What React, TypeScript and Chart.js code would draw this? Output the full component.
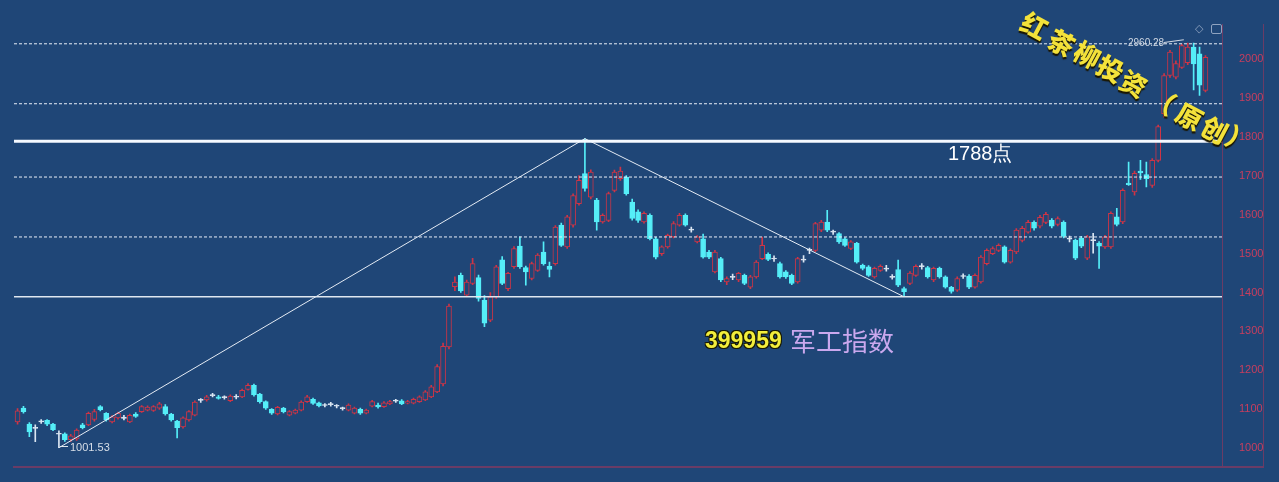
import React, { useEffect, useRef } from 'react';
import { Chart, registerables } from 'chart.js';
Chart.register(...registerables);

// ---- data (index = candle number, left to right) ----
const opens = [
  1068,1103,1062,1053,1068,1072,1062,1038,1037,1022,
  1024,1060,1060,1074,1107,1090,1068,1078,1080,1068,
  1088,1094,1098,1097,1103,1107,1088,1070,1055,1073,
  1085,1125,1124,1138,1132,1131,1122,1133,1132,1151,
  1162,1139,1120,1100,1088,1103,1085,1090,1098,1120,
  1126,1117,1112,1113,1109,1103,1098,1090,1100,1090,
  1108,1111,1107,1114,1123,1122,1116,1116,1120,1124,
  1132,1145,1165,1260,1415,1444,1393,1423,1438,1380,
  1329,1389,1484,1410,1466,1519,1464,1436,1457,1504,
  1467,1474,1573,1517,1573,1628,1705,1645,1637,1581,
  1585,1662,1692,1696,1632,1607,1581,1598,1538,1500,
  1517,1543,1573,1598,1563,1530,1538,1504,1453,1487,
  1427,1441,1432,1444,1414,1440,1487,1498,1488,1474,
  1453,1444,1427,1486,1509,1508,1560,1581,1556,1551,
  1538,1513,1526,1470,1466,1440,1457,1463,1439,1459,
  1410,1423,1444,1469,1464,1432,1462,1440,1413,1406,
  1441,1442,1414,1427,1474,1500,1508,1517,1478,1504,
  1534,1555,1580,1570,1580,1585,1575,1580,1540,1534,
  1540,1488,1535,1527,1517,1517,1594,1581,1681,1658,
  1712,1703,1675,1739,1859,1957,1953,1978,1990,2030,
  2013,1919,
];
const closes = [
  1096,1094,1042,1051,1069,1062,1048,1036,1022,1032,
  1047,1053,1090,1094,1099,1073,1081,1090,1077,1085,
  1082,1107,1106,1107,1114,1088,1073,1053,1078,1094,
  1119,1123,1132,1135,1128,1130,1134,1131,1149,1162,
  1137,1120,1103,1090,1105,1094,1094,1098,1119,1132,
  1115,1109,1110,1112,1108,1102,1111,1103,1090,1098,
  1120,1106,1117,1120,1121,1114,1120,1126,1132,1145,
  1158,1210,1262,1365,1427,1404,1427,1474,1385,1321,
  1389,1466,1423,1449,1513,1466,1453,1474,1496,1474,
  1459,1568,1521,1594,1649,1688,1667,1709,1581,1598,
  1654,1709,1712,1654,1590,1585,1603,1538,1491,1517,
  1547,1577,1598,1573,1560,1543,1491,1491,1504,1432,
  1436,1439,1449,1423,1440,1478,1521,1485,1486,1440,
  1440,1423,1487,1483,1508,1577,1581,1560,1555,1530,
  1521,1530,1478,1462,1444,1462,1467,1460,1441,1419,
  1402,1450,1467,1466,1440,1462,1440,1414,1403,1436,
  1443,1414,1444,1491,1508,1513,1521,1478,1508,1560,
  1565,1580,1565,1593,1601,1570,1590,1544,1537,1488,
  1519,1543,1533,1519,1543,1603,1575,1662,1677,1706,
  1707,1692,1739,1826,1957,2017,1988,2034,2030,1987,
  1932,2004,
];
const highs = [
  1102,1108,1066,1060,1074,1074,1064,1045,1040,1036,
  1050,1064,1093,1100,1110,1092,1084,1093,1085,1088,
  1092,1110,1109,1110,1118,1112,1090,1072,1081,1097,
  1122,1128,1136,1141,1136,1135,1137,1138,1152,1166,
  1165,1141,1122,1102,1108,1105,1097,1101,1122,1136,
  1129,1119,1115,1118,1112,1106,1114,1106,1103,1101,
  1123,1116,1120,1123,1126,1125,1123,1129,1135,1148,
  1162,1215,1270,1370,1440,1450,1432,1488,1445,1392,
  1400,1470,1492,1452,1518,1543,1468,1478,1500,1530,
  1478,1572,1578,1598,1653,1700,1795,1715,1642,1602,
  1658,1714,1722,1700,1640,1612,1607,1602,1542,1520,
  1550,1582,1603,1602,1568,1546,1550,1508,1508,1490,
  1440,1447,1452,1447,1444,1482,1542,1502,1494,1478,
  1456,1447,1490,1495,1514,1580,1585,1611,1560,1554,
  1541,1533,1529,1473,1469,1465,1471,1470,1446,1483,
  1414,1454,1471,1474,1467,1465,1465,1443,1416,1440,
  1448,1446,1448,1495,1512,1517,1525,1520,1512,1564,
  1570,1585,1584,1598,1606,1590,1594,1584,1545,1537,
  1544,1547,1552,1531,1547,1607,1616,1666,1735,1712,
  1739,1735,1744,1830,1962,2022,1995,2038,2040,2040,
  2030,2008,
];
const lows = [
  1062,1090,1030,1017,1064,1058,1045,1001.53,1018,1018,
  1020,1050,1058,1070,1096,1070,1065,1075,1073,1066,
  1079,1092,1096,1095,1100,1085,1070,1027,1052,1070,
  1083,1118,1121,1132,1126,1126,1120,1127,1130,1149,
  1134,1116,1100,1087,1086,1091,1083,1088,1096,1118,
  1113,1106,1106,1108,1104,1098,1096,1088,1087,1088,
  1106,1103,1105,1112,1118,1112,1114,1114,1118,1122,
  1130,1143,1160,1255,1405,1400,1390,1420,1378,1312,
  1325,1385,1420,1405,1462,1462,1419,1432,1454,1470,
  1440,1470,1518,1513,1568,1624,1660,1640,1560,1578,
  1582,1658,1688,1650,1586,1580,1578,1535,1486,1495,
  1514,1540,1570,1570,1555,1527,1488,1487,1450,1428,
  1420,1433,1428,1420,1410,1437,1484,1482,1480,1437,
  1436,1420,1424,1478,1500,1505,1556,1556,1549,1526,
  1518,1510,1475,1458,1441,1437,1454,1455,1434,1415,
  1389,1420,1441,1460,1437,1428,1437,1411,1398,1403,
  1436,1410,1411,1424,1471,1497,1505,1475,1475,1500,
  1530,1552,1560,1566,1577,1566,1571,1540,1530,1484,
  1515,1484,1501,1462,1513,1513,1571,1577,1675,1650,
  1690,1671,1670,1735,1850,1952,1948,1975,1985,1920,
  1906,1915,
];

const yTicks = [1000, 1100, 1200, 1300, 1400, 1500, 1600, 1700, 1800, 1900, 2000];
const dashedLevels = [2038.5, 1884.6, 1696.4, 1542.6];
const keyLevel = 1788;
const supportLevel = 1389;
const trendIdx = [7, 96, 150];
const trendVals = [1001.53, 1795, 1389];
const lowLabel = '1001.53';
const highLabel = '2960.28';
const keyLabel = '1788点';
const codeLabel = '399959';
const nameLabel = '军工指数';
const brandChars = ['红', '茶', '柳', '投', '资', '（', '原', '创', '）'];

// ---- styling ----
const BG = '#1f4677';
const RED = '#cf3445';
const CYAN = '#55eef8';
const DOJI = '#dbe6f2';
const X_MIN = -0.6;
const X_MAX = 203.8;
const Y_MIN = 954.6;
const Y_MAX = 2149.5;

const brandPos = [
  [1035, 25], [1062, 42], [1088, 54], [1111, 68], [1134, 83],
  [1163, 100], [1190, 116], [1215, 129], [1240, 139],
];

export default function App() {
  const ref = useRef<HTMLCanvasElement>(null);

  useEffect(() => {
    const canvas = ref.current;
    if (!canvas) return;
    const kind = (i: number) =>
      Math.abs(closes[i] - opens[i]) <= 3 ? 'd' : closes[i] >= opens[i] ? 'u' : 'n';
    const bodyFill = opens.map((_, i) => (kind(i) === 'd' ? DOJI : kind(i) === 'u' ? BG : CYAN));
    const lineCol = opens.map((_, i) => (kind(i) === 'd' ? DOJI : kind(i) === 'u' ? RED : CYAN));

    const hLine = (v: number, color: string, width: number, dash: number[]) => ({
      type: 'line' as const,
      data: [{ x: X_MIN, y: v }, { x: X_MAX, y: v }],
      borderColor: color,
      borderWidth: width,
      borderDash: dash,
      pointRadius: 0,
      order: -1,
    });

    const chart = new Chart(canvas, {
      type: 'bar',
      data: {
        datasets: [
          {
            type: 'bar',
            data: opens.map((o, i) => ({ x: i, y: [o, closes[i]] })) as any,
            backgroundColor: bodyFill,
            borderColor: lineCol,
            borderWidth: 1,
            borderSkipped: false,
            barThickness: 5,
            minBarLength: 1,
            grouped: false,
            order: 0,
          } as any,
          {
            type: 'bar',
            data: lows.map((l, i) => ({ x: i, y: [l, highs[i]] })) as any,
            backgroundColor: lineCol,
            borderWidth: 0,
            barThickness: 1,
            grouped: false,
            order: 1,
          } as any,
          ...dashedLevels.map((v) => hLine(v, '#e9eff8', 1, [3, 2])),
          hLine(keyLevel, '#f5f9ff', 3, []),
          hLine(supportLevel, '#dfe7f0', 1.5, []),
          {
            type: 'line',
            data: trendIdx.map((x, k) => ({ x, y: trendVals[k] })),
            borderColor: '#e4ebf4',
            borderWidth: 1,
            pointRadius: 0,
            order: -1,
          } as any,
        ],
      },
      options: {
        animation: false,
        responsive: false,
        maintainAspectRatio: false,
        devicePixelRatio: 1,
        layout: { padding: { left: 14, right: 0, top: 0, bottom: 16 } },
        plugins: { legend: { display: false }, tooltip: { enabled: false } },
        scales: {
          x: { type: 'linear', min: X_MIN, max: X_MAX, display: false, offset: false },
          y: {
            position: 'right',
            min: Y_MIN,
            max: Y_MAX,
            grid: { display: false, drawTicks: true, tickLength: 17 },
            border: { display: false },
            ticks: {
              color: '#c83e5e',
              padding: 0,
              font: { family: 'Liberation Sans', size: 11, lineHeight: 0.1 },
              callback: (v: any) => String(v),
            },
            afterBuildTicks: (s: any) => {
              s.ticks = yTicks.map((v) => ({ value: v }));
            },
            afterFit: (s: any) => {
              s.width = 57;
            },
          },
        },
      } as any,
    });
    return () => chart.destroy();
  }, []);

  const frame = '#6a3c66';
  return (
    <div
      style={{
        position: 'fixed',
        left: 0,
        top: 0,
        width: 1279,
        height: 482,
        background: BG,
        overflow: 'hidden',
        fontFamily: 'Liberation Sans, Arial, sans-serif',
      }}
    >
      <canvas
        ref={ref}
        width={1279}
        height={482}
        style={{ position: 'absolute', left: 0, top: 0, width: 1279, height: 482 }}
      />
      {/* frame lines */}
      <div style={{ position: 'absolute', left: 1222, top: 24, width: 1, height: 443, background: frame }} />
      <div style={{ position: 'absolute', left: 1263, top: 24, width: 1, height: 443, background: frame }} />
      <div style={{ position: 'absolute', left: 13, top: 466, width: 1251, height: 2, background: frame }} />
      {/* small icons */}
      <div style={{ position: 'absolute', left: 1195, top: 21, fontSize: 11, color: '#8fa3c0', lineHeight: '14px' }}>◇</div>
      <div style={{ position: 'absolute', left: 1211, top: 24, width: 9, height: 8, border: '1px solid #8fa3c0', borderRadius: 2 }} />

      {/* low label */}
      <div style={{ position: 'absolute', left: 60, top: 446, width: 8, height: 1, background: '#dfe6ee' }} />
      <div style={{ position: 'absolute', left: 70, top: 441, fontSize: 11, lineHeight: '13px', color: '#d8dfe8' }}>
        {lowLabel}
      </div>
      {/* high label */}
      <div style={{ position: 'absolute', left: 1128, top: 36, fontSize: 10, lineHeight: '13px', color: '#cfd7e2' }}>
        {highLabel}
      </div>
      <div
        style={{
          position: 'absolute',
          left: 1164,
          top: 42,
          width: 20,
          height: 1,
          background: '#cfd7e2',
          transform: 'rotate(-8deg)',
          transformOrigin: 'left center',
        }}
      />
      {/* 1788 */}
      <div style={{ position: 'absolute', left: 948, top: 142, fontSize: 20, lineHeight: '22px', color: '#ffffff' }}>
        {keyLabel}
      </div>
      {/* index name */}
      <div
        style={{
          position: 'absolute',
          left: 705,
          top: 327,
          fontSize: 23,
          lineHeight: '26px',
          fontWeight: 'bold',
          color: '#f2ee3c',
          textShadow: '1px 1px 0 #1a1a00, -1px -1px 0 #1a1a00, 1px -1px 0 #1a1a00, -1px 1px 0 #1a1a00',
        }}
      >
        {codeLabel}
      </div>
      <div
        style={{
          position: 'absolute',
          left: 790,
          top: 325,
          fontSize: 26,
          lineHeight: '30px',
          color: '#caa8ee',
          fontFamily: 'Noto Sans CJK SC, sans-serif',
        }}
      >
        {nameLabel}
      </div>
      {/* brand */}
      {brandChars.map((ch, k) => (
        <div
          key={k}
          style={{
            position: 'absolute',
            left: brandPos[k][0],
            top: brandPos[k][1],
            fontSize: 26,
            lineHeight: '26px',
            fontWeight: 900,
            color: '#f3e23a',
            fontFamily: 'Noto Sans CJK SC, sans-serif',
            textShadow: '1px 2px 1px #1a1600',
            transform: 'translate(-50%, -50%) rotate(28deg)',
          }}
        >
          {ch}
        </div>
      ))}
    </div>
  );
}
